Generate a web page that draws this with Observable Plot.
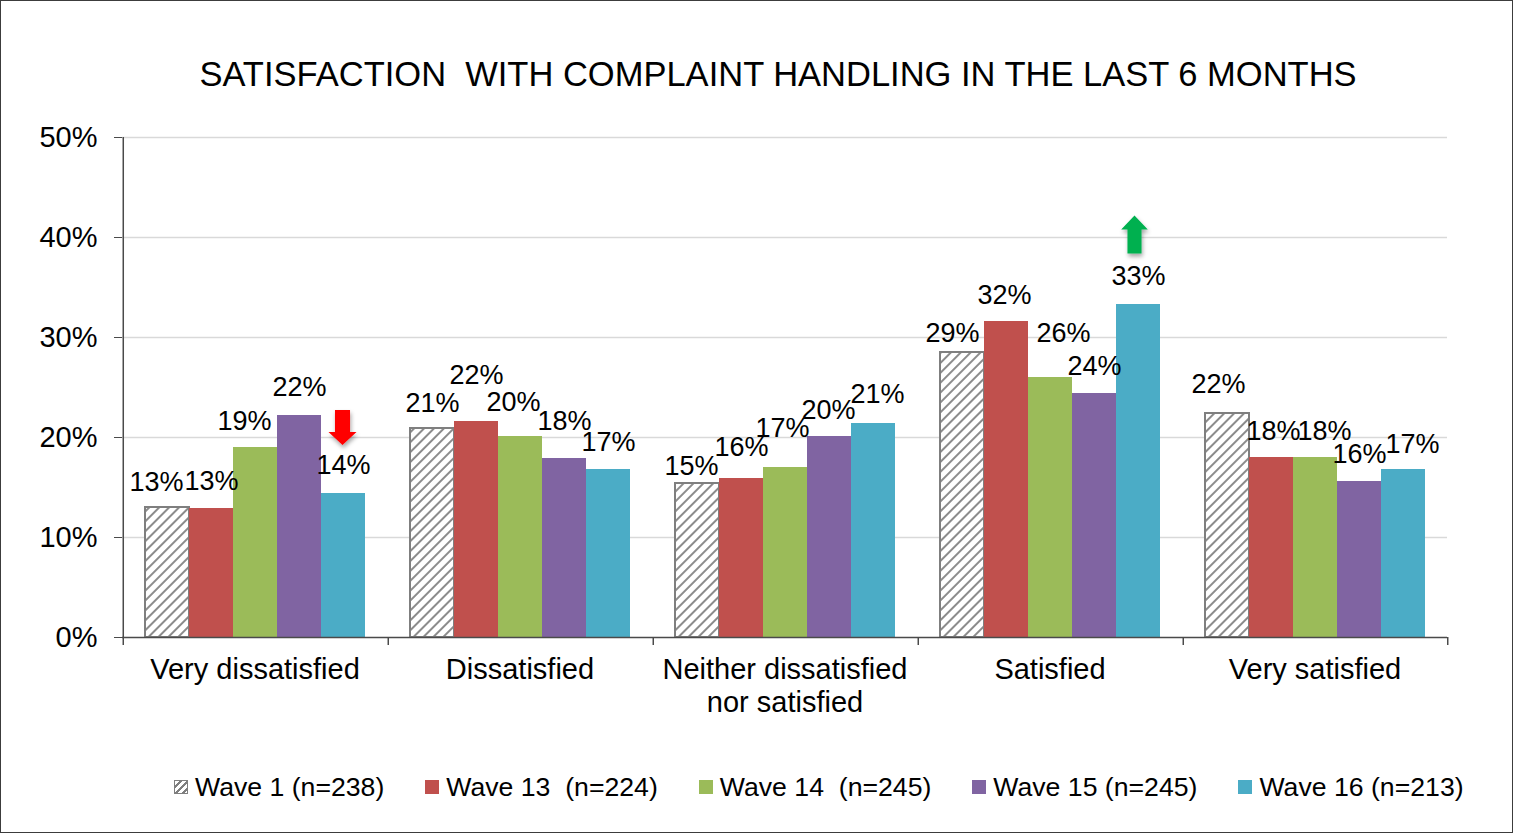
<!DOCTYPE html>
<html>
<head>
<meta charset="utf-8">
<script src="https://cdn.jsdelivr.net/npm/d3@7"></script>
<script src="https://cdn.jsdelivr.net/npm/@observablehq/plot@0.6"></script>
<style>
  html, body { margin: 0; padding: 0; background: #fff; }
  #page { position: relative; width: 1514px; height: 834px; overflow: hidden;
          font-family: "Liberation Sans", Arial, sans-serif; color: #000; }
  #border { position: absolute; left: 0; top: 0; width: 1513px; height: 833px;
            box-sizing: border-box; border: 1.5px solid #3c3c3c; pointer-events: none; }
  #title { position: absolute; top: 57px; left: 778px; transform: translateX(-50%);
           white-space: pre; font-size: 34.5px; line-height: 34px; }
  #chart { position: absolute; left: 0; top: 100px; }
  #legend { position: absolute; left: 174px; top: 774px; display: flex; align-items: center;
            font-size: 26.65px; line-height: 26px; white-space: pre; }
  .item { display: flex; align-items: center; margin-right: 41px; }
  .sw { width: 14px; height: 14px; margin-right: 7px; box-sizing: border-box; }
</style>
</head>
<body>
<div id="page">
  <div id="title"></div>
  <div id="chart"></div>
  <div id="legend"></div>
  <div id="border"></div>
</div>
<script>
const titleText = "SATISFACTION  WITH COMPLAINT HANDLING IN THE LAST 6 MONTHS";
const categories = ["Very dissatisfied", "Dissatisfied", "Neither dissatisfied nor satisfied", "Satisfied", "Very satisfied"];
const categoryLabels = ["Very dissatisfied", "Dissatisfied", "Neither dissatisfied\nnor satisfied", "Satisfied", "Very satisfied"];
const waves = ["Wave 1", "Wave 13", "Wave 14", "Wave 15", "Wave 16"];
const waveLegend = ["Wave 1 (n=238)", "Wave 13  (n=224)", "Wave 14  (n=245)", "Wave 15 (n=245)", "Wave 16 (n=213)"];
const wave1  = [13.0, 20.9, 15.4, 28.5, 22.4];
const wave13 = [12.9, 21.6, 15.9, 31.6, 18.0];
const wave14 = [19.0, 20.1, 17.0, 26.0, 18.0];
const wave15 = [22.2, 17.9, 20.1, 24.4, 15.6];
const wave16 = [14.4, 16.8, 21.4, 33.3, 16.8];
const series = [wave1, wave13, wave14, wave15, wave16];
const yTicks = [0, 10, 20, 30, 40, 50];
const waveColors = ["url(#hatch)", "#C0504D", "#9BBB59", "#8064A2", "#4BACC6"];
const arrows = [
  {cat: "Very dissatisfied", wave: "Wave 16", dir: "down"},
  {cat: "Satisfied", wave: "Wave 16", dir: "up"}
];
// label nudges [dx, dy] in pixels, per category, per wave
const labelNudge = [
  [[-11, 2], [0, 0], [-11, 1], [0, -1], [0, -1]],
  [[0, 2], [0, -19], [-7, -7], [0, -10], [0, 0]],
  [[-6, 10], [0, -4], [-3, -12], [-1, 1], [4, -2]],
  [[-10, 8], [-2, 1], [13, -17], [0, 0], [0, -1]],
  [[-9, -2], [2, 1], [9, 1], [0, 0], [9, 2]]
];

const rows = categories.flatMap((c, i) => waves.map((w, j) => ({cat: c, wave: w, value: series[j][i], nudge: labelNudge[i][j]})));
const arrowRows = arrows.map(a => ({...a, value: series[waves.indexOf(a.wave)][categories.indexOf(a.cat)]}));

const W = 1514, H = 640, mL = 121, mR = 66, mT = 37, mB = 103;
const step = (W - mL - mR) / categories.length / (waves.length + 1);

const downArrow = {draw(ctx, size) {
  const r = Math.sqrt(size / Math.PI);
  const hw = r * 0.43, hh = r * 0.8, hy = r * 0.26;
  ctx.moveTo(-hw, -r); ctx.lineTo(hw, -r); ctx.lineTo(hw, hy); ctx.lineTo(hh, hy);
  ctx.lineTo(0, r); ctx.lineTo(-hh, hy); ctx.lineTo(-hw, hy); ctx.closePath();
}};
const upArrow = {draw(ctx, size) {
  const r = Math.sqrt(size / Math.PI);
  const hw = r * 0.37, hh = r * 0.7, hy = -r * 0.26;
  ctx.moveTo(-hw, r); ctx.lineTo(hw, r); ctx.lineTo(hw, hy); ctx.lineTo(hh, hy);
  ctx.lineTo(0, -r); ctx.lineTo(-hh, hy); ctx.lineTo(-hw, hy); ctx.closePath();
}};

const axisColor = "#4a4a4a";
const labelMarks = rows.map(d => Plot.text([d], {
  fx: "cat", x: "wave", y: "value", text: r => Math.round(r.value) + "%",
  dx: d.nudge[0], dy: -27 + d.nudge[1], fontSize: 27, lineAnchor: "middle", fill: "#000"
}));

const plot = Plot.plot({
  width: W, height: H,
  marginTop: mT, marginBottom: mB, marginLeft: mL, marginRight: mR,
  style: {fontFamily: '"Liberation Sans", Arial, sans-serif', background: "transparent", color: "#000", overflow: "visible"},
  fx: {domain: categories, padding: 0, label: null},
  x: {domain: waves, paddingInner: 0, paddingOuter: 0.5, axis: null},
  y: {domain: [0, 50], label: null},
  color: {domain: waves.slice(1), range: waveColors.slice(1)},
  marks: [
    Plot.ruleY(yTicks.filter(t => t > 0), {stroke: "#d9d9d9", strokeWidth: 1.5}),
    Plot.barY(rows.filter(d => d.wave === waves[0]), {fx: "cat", x: "wave", y: "value", fill: waveColors[0], stroke: "#7f7f7f", strokeWidth: 2}),
    Plot.barY(rows.filter(d => d.wave !== waves[0]), {fx: "cat", x: "wave", y: "value", fill: "wave"}),
    Plot.ruleY([0], {stroke: axisColor, strokeWidth: 1.5}),
    Plot.ruleX([{cat: categories[0], wave: waves[0]}], {fx: "cat", x: "wave", y1: 0, y2: 50, dx: -step, stroke: axisColor, strokeWidth: 1.5}),
    Plot.ruleX(categories.map(c => ({cat: c, wave: waves[0]})), {fx: "cat", x: "wave", y1: 0, y2: 0, insetBottom: -8, dx: -step, stroke: axisColor, strokeWidth: 1.5}),
    Plot.ruleX([{cat: categories[categories.length - 1], wave: waves[waves.length - 1]}], {fx: "cat", x: "wave", y1: 0, y2: 0, insetBottom: -8, dx: step, stroke: axisColor, strokeWidth: 1.5}),
    Plot.axisY(yTicks, {tickFormat: d => d + "%", tickSize: 8, tickPadding: 17, fontSize: 29, stroke: axisColor, label: null}),
    Plot.axisFx({anchor: "bottom", tickSize: 0, tickPadding: 18, fontSize: 29, lineHeight: 1.14, label: null,
                 tickFormat: d => categoryLabels[categories.indexOf(d)]}),
    ...labelMarks,
    Plot.dot(arrowRows.filter(d => d.dir === "down"), {fx: "cat", x: "wave", y: "value", symbol: downArrow, r: 17.5,
                     fill: "#FF0000", stroke: "none", dy: -66, dx: -1}),
    Plot.dot(arrowRows.filter(d => d.dir === "up"), {fx: "cat", x: "wave", y: "value", symbol: upArrow, r: 19,
                     fill: "#00B050", stroke: "none", dy: -70, dx: -4})
  ]
});

const svg = d3.select(plot);
const defs = svg.insert("defs", ":first-child");
const pat = defs.append("pattern").attr("id", "hatch").attr("patternUnits", "userSpaceOnUse")
  .attr("width", 7).attr("height", 7).attr("patternTransform", "rotate(45)");
pat.append("rect").attr("width", 7).attr("height", 7).attr("fill", "#fff");
pat.append("line").attr("x1", 1).attr("y1", 0).attr("x2", 1).attr("y2", 7).attr("stroke", "#7f7f7f").attr("stroke-width", 1.8);
const filt = defs.append("filter").attr("id", "shadow").attr("x", "-50%").attr("y", "-50%").attr("width", "200%").attr("height", "200%");
filt.append("feDropShadow").attr("dx", 1).attr("dy", 3).attr("stdDeviation", 2).attr("flood-color", "#000").attr("flood-opacity", 0.35);
const isArrowFill = el => {
  const f = (el && el.getAttribute ? (el.getAttribute("fill") || "") : "").toUpperCase();
  return f === "#FF0000" || f === "#00B050";
};
svg.selectAll("path").filter(function() { return isArrowFill(this) || isArrowFill(this.parentNode); })
  .attr("filter", "url(#shadow)");

document.getElementById("chart").appendChild(plot);
document.getElementById("title").textContent = titleText;

const legend = d3.select("#legend");
waveLegend.forEach((label, j) => {
  const item = legend.append("div").attr("class", "item");
  const sw = item.append("div").attr("class", "sw");
  if (j === 0) {
    sw.style("border", "1.5px solid #7f7f7f")
      .style("background", "repeating-linear-gradient(135deg, #fff 0 3px, #7f7f7f 3px 5px)");
  } else {
    sw.style("background", waveColors[j]);
  }
  item.append("span").text(label);
});
</script>
</body>
</html>
